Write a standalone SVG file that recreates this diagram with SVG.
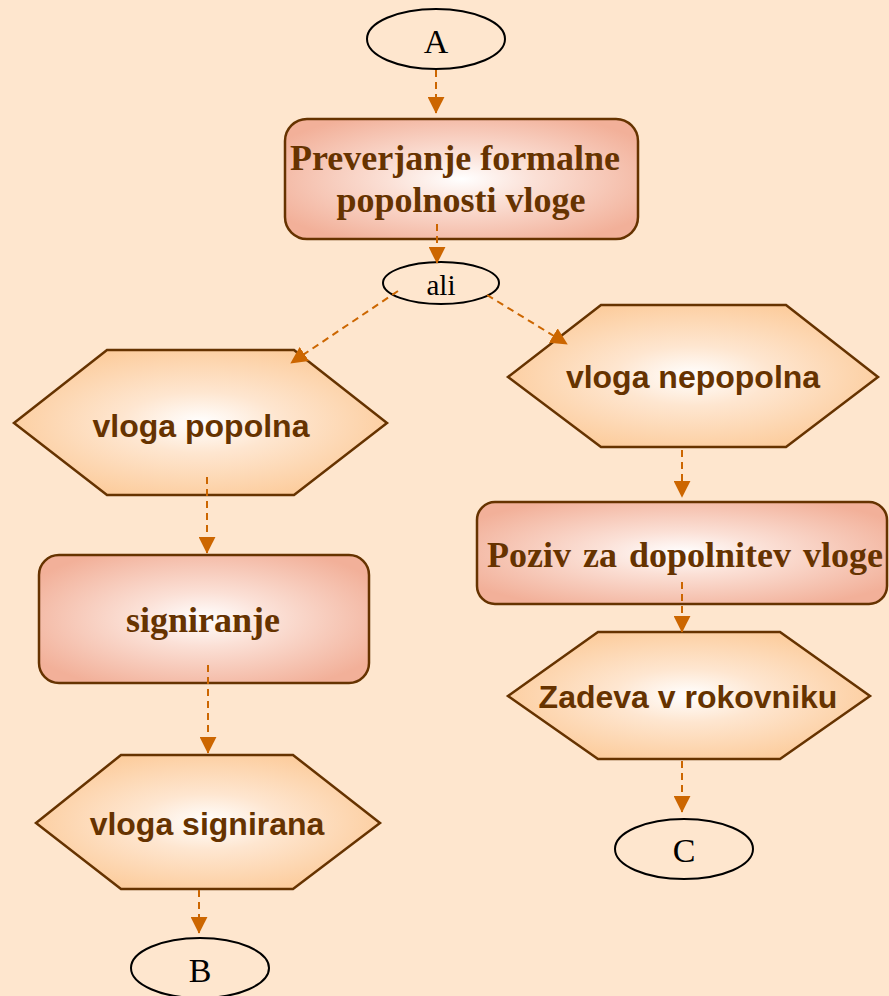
<svg xmlns="http://www.w3.org/2000/svg" width="889" height="996" viewBox="0 0 889 996">
  <defs>
    <radialGradient id="gBox" cx="0.5" cy="0.5" r="0.6">
      <stop offset="0" stop-color="#FFFFFF"/>
      <stop offset="0.35" stop-color="#FBE0D6"/>
      <stop offset="1" stop-color="#F2B099"/>
    </radialGradient>
    <radialGradient id="gHex" cx="0.5" cy="0.5" r="0.6">
      <stop offset="0" stop-color="#FFFFFF"/>
      <stop offset="0.35" stop-color="#FEE6D0"/>
      <stop offset="1" stop-color="#FCC894"/>
    </radialGradient>
    <marker id="ah" viewBox="0 0 10 10" refX="9.5" refY="5" markerWidth="17" markerHeight="17" markerUnits="userSpaceOnUse" orient="auto">
      <path d="M0,0 L10,5 L0,10 z" fill="#CC6600"/>
    </marker>
  </defs>
  <style>
    .box { fill: url(#gBox); stroke: #663300; stroke-width: 2.5; }
    .hex { fill: url(#gHex); stroke: #663300; stroke-width: 2.5; }
    .term { fill: none; stroke: #000; stroke-width: 2; }
    .serifB { font-family: "Liberation Serif", "Times New Roman", serif; font-weight: bold; font-size: 36px; fill: #663300; text-anchor: middle; }
    .sansB { font-family: "Liberation Sans", Arial, sans-serif; font-weight: bold; font-size: 32px; fill: #663300; text-anchor: middle; }
    .termT { font-family: "Liberation Serif", "Times New Roman", serif; font-size: 34px; fill: #000; text-anchor: middle; }
    .conn { stroke: #CC6600; stroke-width: 2; stroke-dasharray: 7 5; fill: none; marker-end: url(#ah); }
  </style>

  <rect width="889" height="996" fill="#FEE6CE"/>

  <g id="nodeA">
    <ellipse class="term" cx="436" cy="39" rx="69" ry="30"/>
    <text class="termT" x="436" y="53">A</text>
  </g>

  <g id="preverjanje">
    <rect class="box" x="285" y="119" width="353" height="120" rx="22"/>
    <text class="serifB" x="455" y="170">Preverjanje formalne</text>
    <text class="serifB" x="461" y="212">popolnosti vloge</text>
  </g>

  <g id="ali">
    <ellipse class="term" cx="441" cy="283" rx="58" ry="21"/>
    <text class="termT" x="441" y="295" style="font-size:29px">ali</text>
  </g>

  <g id="vlogaPopolna">
    <polygon class="hex" points="14,423 107,350 294,350 387,423 294,495 107,495"/>
    <text class="sansB" x="201" y="437">vloga popolna</text>
  </g>

  <g id="signiranje">
    <rect class="box" x="39" y="555" width="330" height="128" rx="20"/>
    <text class="serifB" x="203" y="632">signiranje</text>
  </g>

  <g id="vlogaSignirana">
    <polygon class="hex" points="36,823 121,755 293,755 380,823 293,889 121,889"/>
    <text class="sansB" x="207" y="835">vloga signirana</text>
  </g>

  <g id="nodeB">
    <ellipse class="term" cx="200" cy="968" rx="69" ry="30"/>
    <text class="termT" x="200" y="982">B</text>
  </g>

  <g id="vlogaNepopolna">
    <polygon class="hex" points="508,377 601,305 786,305 878,377 786,447 601,447"/>
    <text class="sansB" x="693" y="388">vloga nepopolna</text>
  </g>

  <g id="poziv">
    <rect class="box" x="477" y="502" width="410" height="102" rx="18"/>
    <text class="serifB" x="685" y="567" word-spacing="3">Poziv za dopolnitev vloge</text>
  </g>

  <g id="zadeva">
    <polygon class="hex" points="508,696 598,632 780,632 870,696 780,759 598,759"/>
    <text class="sansB" x="688" y="708">Zadeva v rokovniku</text>
  </g>

  <g id="nodeC">
    <ellipse class="term" cx="684" cy="849" rx="69" ry="30"/>
    <text class="termT" x="684" y="862">C</text>
  </g>

  <g id="connectors">
    <line class="conn" x1="436" y1="70" x2="436" y2="113"/>
    <line class="conn" x1="437" y1="224" x2="437" y2="263"/>
    <line class="conn" x1="398" y1="291" x2="291" y2="363"/>
    <line class="conn" x1="487" y1="295" x2="567" y2="344"/>
    <line class="conn" x1="207" y1="477" x2="207" y2="553"/>
    <line class="conn" x1="208" y1="665" x2="208" y2="753"/>
    <line class="conn" x1="199" y1="890" x2="199" y2="933"/>
    <line class="conn" x1="682" y1="450" x2="682" y2="497"/>
    <line class="conn" x1="682" y1="582" x2="682" y2="632"/>
    <line class="conn" x1="682" y1="761" x2="682" y2="812"/>
  </g>
</svg>
